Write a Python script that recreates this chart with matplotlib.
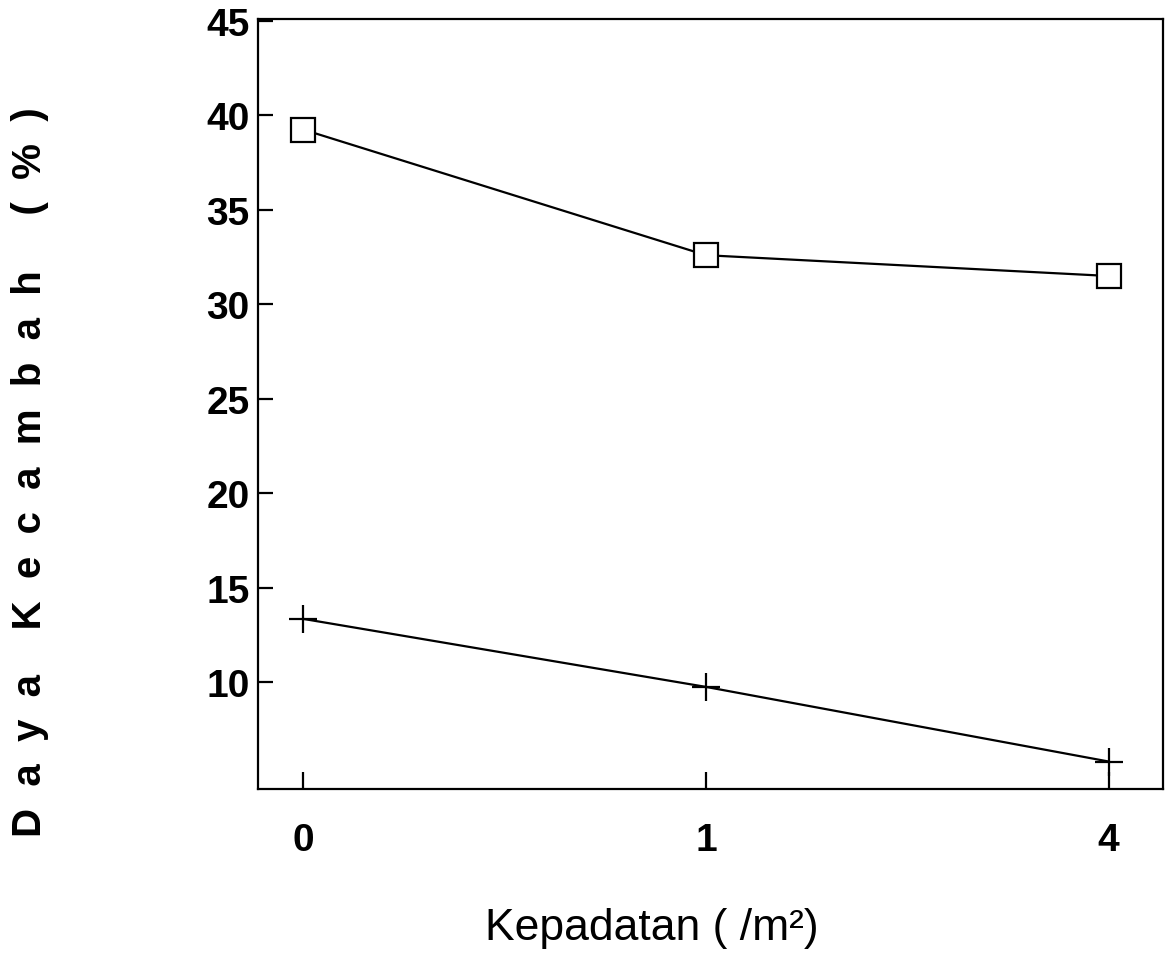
import matplotlib
matplotlib.use("Agg")
import matplotlib.pyplot as plt

categories = ["0", "1", "4"]
series_square = [39.25, 32.6, 31.5]
series_plus = [13.35, 9.75, 5.8]
yticks = [10, 15, 20, 25, 30, 35, 40, 45]

plt.rcParams['font.family'] = ['Liberation Sans', 'DejaVu Sans']

fig = plt.figure(figsize=(11.73, 9.54), dpi=100)
ax = fig.add_axes([0.22, 0.172, 0.7715, 0.807])

x = list(range(len(categories)))
ax.plot(x, series_square, color='black', lw=1.6, marker='s', markersize=17,
        markerfacecolor='white', markeredgecolor='black', markeredgewidth=1.6)
ax.plot(x, series_plus, color='black', lw=1.6, marker='+', markersize=20,
        markeredgewidth=1.6)

ax.set_xlim(-0.112, 2.135)
ax.set_ylim(4.35, 45.1)
ax.set_xticks(x)
ax.set_xticklabels(categories)
ax.set_yticks(yticks)
ax.set_yticklabels([str(v) for v in yticks])

for s in ax.spines.values():
    s.set_linewidth(1.6)

ax.tick_params(axis='y', direction='in', length=11, width=1.6, pad=6,
               labelsize=28)
ax.tick_params(axis='x', direction='in', length=12, width=1.6, pad=24,
               labelsize=28)
for lab in ax.get_xticklabels() + ax.get_yticklabels():
    lab.set_fontweight('bold')

fig.text(0.556, 0.0147, "Kepadatan ( /m²)", ha='center', va='baseline',
         fontsize=32)

ylabel = "  ".join("Daya") + "    " + "  ".join("Kecambah") + "     " + "  ".join("(%)")
fig.text(0.026, 0.505, ylabel, rotation=90,
         ha='center', va='center', fontsize=29, fontweight='bold')

fig.savefig("out.png", dpi=100)
